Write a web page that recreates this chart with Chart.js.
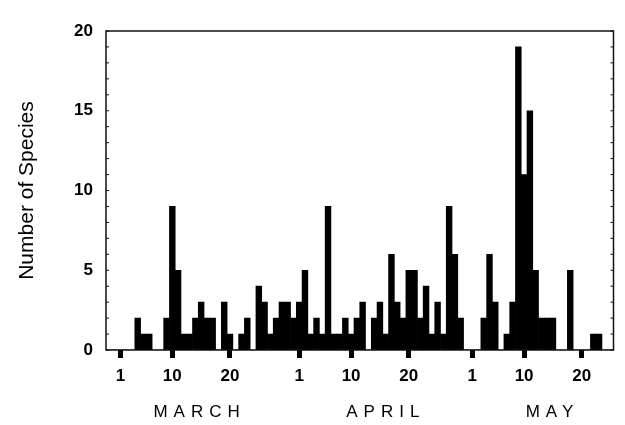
<!DOCTYPE html>
<html>
<head>
<meta charset="utf-8">
<script src="https://cdn.jsdelivr.net/npm/chart.js@4"></script>
<style>html, body { margin: 0; background: #fff; }</style>
</head>
<body>
<canvas id="chart" width="625" height="425"></canvas>
<script>
// days shown on the axis (two empty days before March 1)
const febDays = [27, 28];
const marchDays = [1,2,3,4,5,6,7,8,9,10,11,12,13,14,15,16,17,18,19,20,21,22,23,24,25,26,27,28,29,30,31];
const aprilDays = [1,2,3,4,5,6,7,8,9,10,11,12,13,14,15,16,17,18,19,20,21,22,23,24,25,26,27,28,29,30];
const mayDays = [1,2,3,4,5,6,7,8,9,10,11,12,13,14,15,16,17,18,19,20,21,22,23,24,25];

// number of species per day
const febCounts = [0, 0];
const marchCounts = [0,0,0,2,1,1,0,0,2,9,5,1,1,2,3,2,2,0,3,1,0,1,2,0,4,3,1,2,3,3,2];
const aprilCounts = [3,5,1,2,1,9,1,1,2,1,2,3,0,2,3,1,6,3,2,5,5,2,4,1,3,1,9,6,2,0];
const mayCounts = [0,0,2,6,3,0,1,3,19,11,15,5,2,2,2,0,0,5,0,0,0,1,1,0,0];

const shownDays = [1, 10, 20];
const yTicks = [0, 5, 10, 15, 20];
const monthNames = ['MARCH', 'APRIL', 'MAY'];

const dayOfMonth = [...febDays, ...marchDays, ...aprilDays, ...mayDays];
const counts = [...febCounts, ...marchCounts, ...aprilCounts, ...mayCounts];

// category index the month name is centred on
const monthLabelAt = [15.2, 47.5, 76.4];

const isShown = i => i >= febDays.length && shownDays.includes(dayOfMonth[i]);

const framePlugin = {
  id: 'frame',
  afterDraw(chart) {
    const { ctx, chartArea: a, scales: { x, y } } = chart;
    ctx.save();
    ctx.strokeStyle = '#111';
    ctx.lineWidth = 1.5;
    ctx.strokeRect(a.left, a.top, a.right - a.left, a.bottom - a.top);

    // small inward ticks on both sides
    ctx.lineWidth = 1;
    y.ticks.forEach(t => {
      const py = y.getPixelForValue(t.value);
      ctx.beginPath();
      ctx.moveTo(a.left, py); ctx.lineTo(a.left + 3, py);
      ctx.moveTo(a.right, py); ctx.lineTo(a.right - 3, py);
      ctx.stroke();
    });

    ctx.font = '17px "Liberation Sans", Arial, sans-serif';
    ctx.letterSpacing = '6px';
    ctx.fillStyle = '#000';
    ctx.textAlign = 'center';
    ctx.textBaseline = 'middle';
    monthNames.forEach((m, i) => {
      ctx.fillText(m, x.getPixelForValue(monthLabelAt[i]) + 3, a.bottom + 62);
    });
    ctx.restore();
  }
};

new Chart(document.getElementById('chart'), {
  type: 'bar',
  data: {
    labels: dayOfMonth,
    datasets: [{
      data: counts,
      backgroundColor: '#000',
      borderWidth: 0,
      barPercentage: 1,
      categoryPercentage: 1
    }]
  },
  options: {
    responsive: false,
    animation: false,
    layout: { padding: { left: 11, right: 11.5, top: 31, bottom: 0 } },
    plugins: { legend: { display: false }, tooltip: { enabled: false } },
    scales: {
      x: {
        border: { display: false },
        grid: {
          drawOnChartArea: false,
          drawTicks: true,
          offset: false,
          tickLength: 8,
          lineWidth: 5,
          color: ctx => isShown(ctx.index) ? '#000' : 'rgba(0,0,0,0)'
        },
        ticks: {
          autoSkip: false,
          maxRotation: 0,
          padding: 8,
          color: '#000',
          font: { family: '"Liberation Sans", Arial, sans-serif', size: 17, weight: 'bold' },
          callback: (v, i) => isShown(i) ? String(dayOfMonth[i]) : ''
        },
        afterFit: s => { s.height = 75; }
      },
      y: {
        min: 0,
        max: 20,
        border: { display: false },
        grid: { display: false, drawTicks: false },
        ticks: {
          stepSize: 1,
          autoSkip: false,
          padding: 13,
          color: '#000',
          font: { family: '"Liberation Sans", Arial, sans-serif', size: 17, weight: 'bold' },
          callback: v => yTicks.includes(v) ? String(v) : ''
        },
        title: {
          display: true,
          text: 'Number of Species',
          color: '#000',
          padding: 4,
          font: { family: '"Liberation Sans", Arial, sans-serif', size: 21 }
        },
        afterFit: s => { s.width = 95; }
      }
    }
  },
  plugins: [framePlugin]
});
</script>
</body>
</html>
